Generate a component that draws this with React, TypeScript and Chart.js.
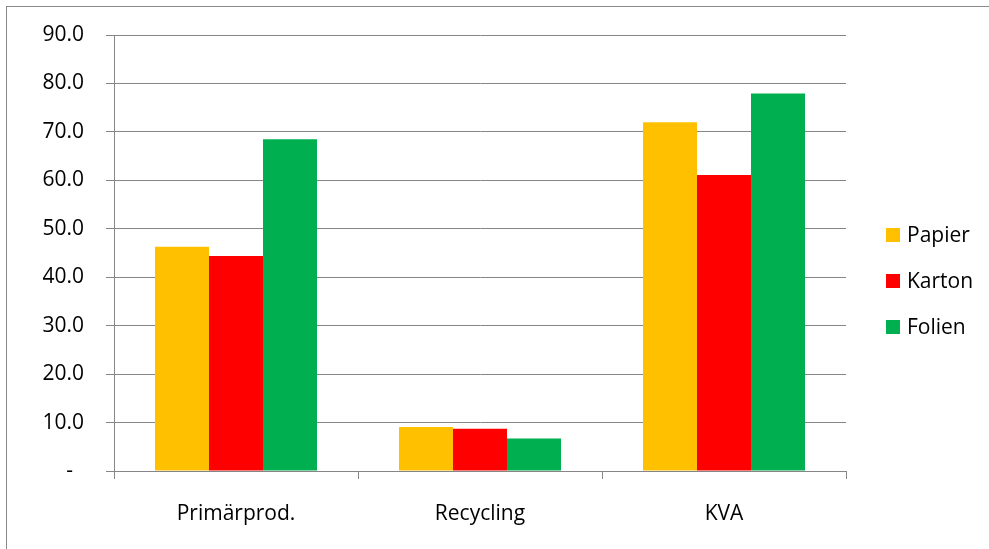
import React, { useEffect, useRef } from "react";
import { Chart, registerables } from "chart.js";

Chart.register(...registerables);

const categories = ["Primärprod.", "Recycling", "KVA"];
const seriesNames = ["Papier", "Karton", "Folien"];
const papier = [46.3, 9.1, 72.0];
const karton = [44.4, 8.7, 61.1];
const folien = [68.5, 6.7, 77.9];
const colors = ["#FFC000", "#FF0000", "#00B050"];
const yTicks = [0, 10, 20, 30, 40, 50, 60, 70, 80, 90];

const FONT = "'Open Sans', 'DejaVu Sans', sans-serif";
const GRID = "#868686";

const legendPlugin = {
  id: "customLegend",
  afterDraw(chart: any) {
    const ctx = chart.ctx;
    const ds = chart.data.datasets;
    ctx.save();
    ctx.font = `21px ${FONT}`;
    ctx.textBaseline = "middle";
    ctx.textAlign = "left";
    const startY = 235;
    const step = 46;
    ds.forEach((d: any, i: number) => {
      const y = startY + i * step;
      ctx.fillStyle = d.backgroundColor;
      ctx.fillRect(886, y - 7, 14, 14);
      ctx.fillStyle = "#000";
      ctx.fillText(d.label, 907, y + 1);
    });
    ctx.restore();
  },
};

export default function App() {
  const ref = useRef<HTMLCanvasElement | null>(null);
  useEffect(() => {
    if (!ref.current) return;
    const values = [papier, karton, folien];
    const chart = new Chart(ref.current, {
      type: "bar",
      data: {
        labels: categories,
        datasets: seriesNames.map((n, i) => ({
          label: n,
          data: values[i],
          backgroundColor: colors[i],
          borderWidth: 0,
          categoryPercentage: 0.664,
          barPercentage: 1,
        })),
      },
      options: {
        responsive: false,
        animation: false,
        layout: { padding: { left: 14, right: 143, top: 35, bottom: 0 } },
        plugins: { legend: { display: false }, tooltip: { enabled: false } },
        scales: {
          x: {
            grid: {
              display: true,
              drawOnChartArea: false,
              drawTicks: true,
              tickLength: 8,
              color: GRID,
              lineWidth: 1,
            },
            border: { display: true, color: GRID, width: 1 },
            ticks: {
              color: "#000",
              font: { family: FONT, size: 21 },
              padding: 22,
              maxRotation: 0,
            },
            afterFit(scale: any) {
              scale.height = 78;
            },
          },
          y: {
            min: 0,
            max: 90,
            afterBuildTicks(scale: any) {
              scale.ticks = yTicks.map((v) => ({ value: v }));
            },
            grid: {
              color: GRID,
              lineWidth: 1,
              tickLength: 8,
            },
            border: { display: true, color: GRID, width: 1 },
            ticks: {
              color: "#000",
              font: { family: FONT, size: 21 },
              padding: 22,
              callback: (v: any) => (Number(v) === 0 ? "-  " : Number(v).toFixed(1)),
            },
            afterFit(scale: any) {
              scale.width = 100;
            },
          },
        },
      },
      plugins: [legendPlugin],
    });
    return () => chart.destroy();
  }, []);
  return (
    <div style={{ position: "fixed", left: 0, top: 0, width: 989, height: 549, background: "#fff" }}>
      <canvas ref={ref} width={989} height={549} style={{ position: "absolute", left: 0, top: 0, display: "block" }} />
      <div
        style={{
          position: "absolute",
          left: 6,
          top: 6,
          right: 0,
          bottom: 0,
          borderLeft: "1px solid #898989",
          borderTop: "1px solid #898989",
          pointerEvents: "none",
        }}
      />
    </div>
  );
}
